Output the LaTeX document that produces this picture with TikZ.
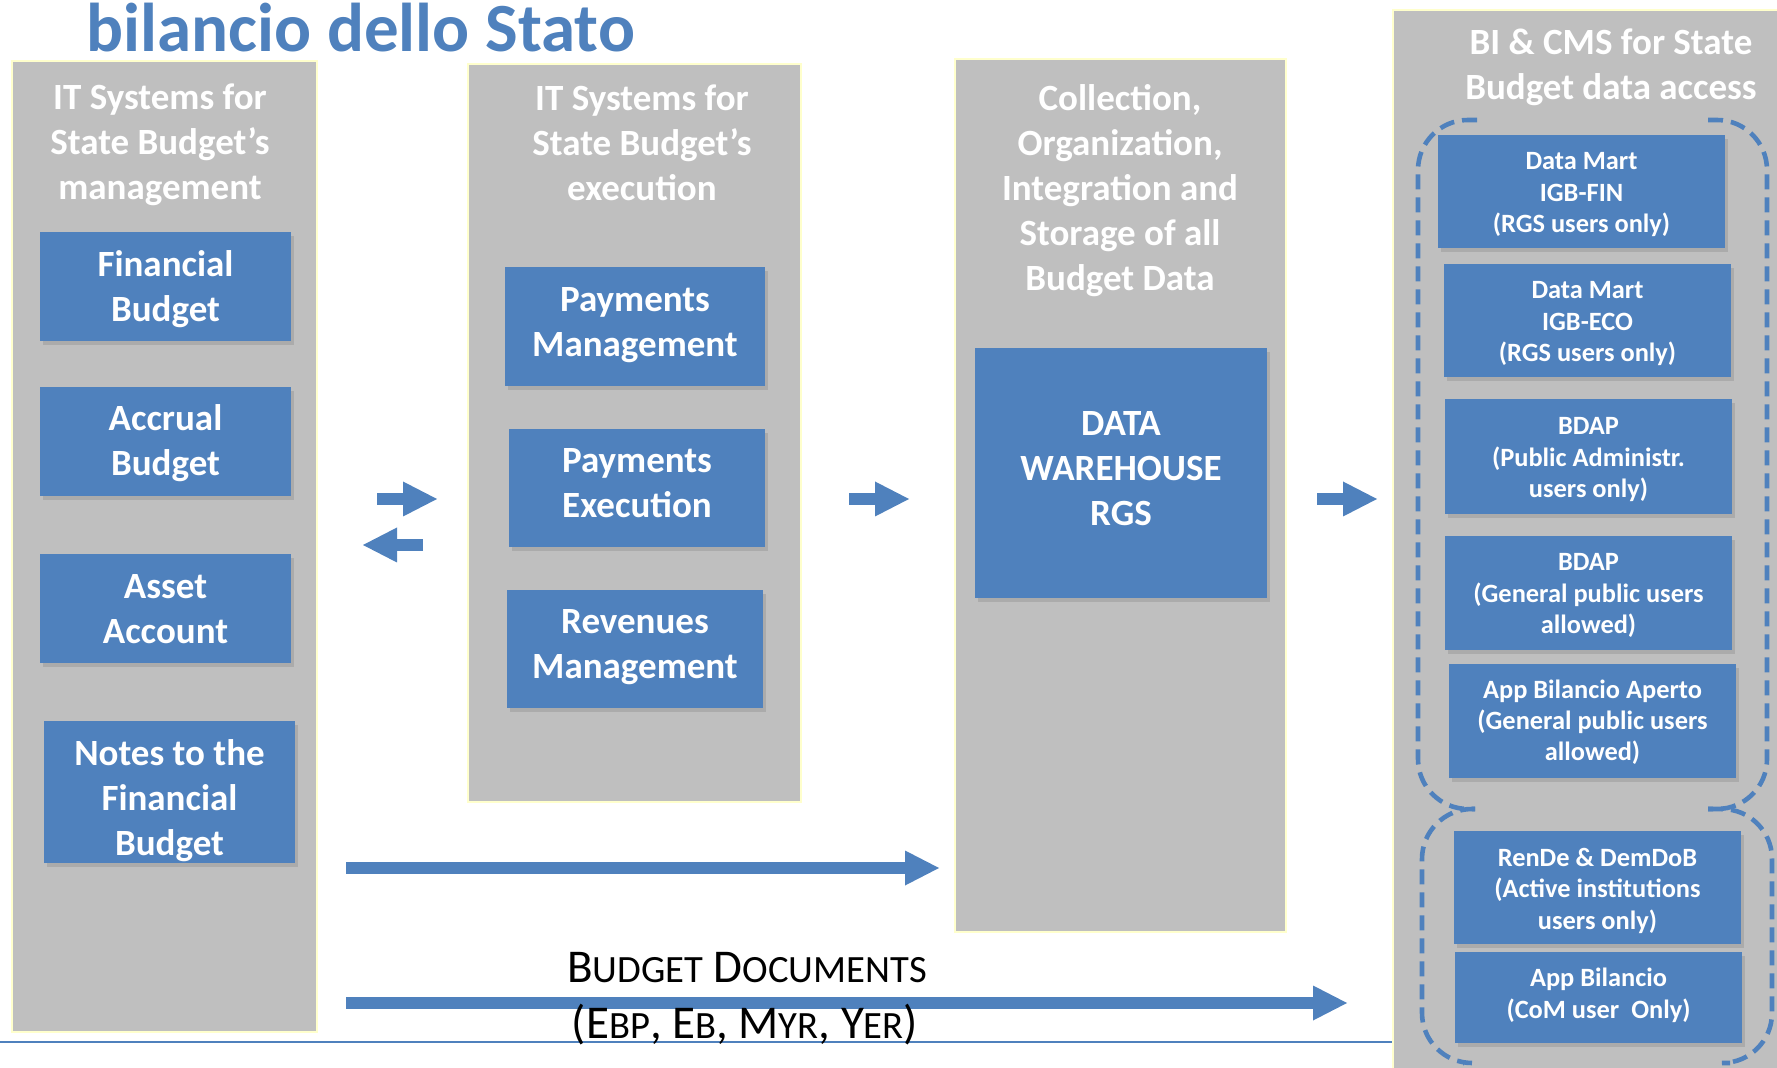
\documentclass[tikz,border=0pt]{standalone}
\usepackage{fontspec}
\setmainfont{Carlito}
\usetikzlibrary{fit,shadows,arrows.meta}
\definecolor{ofblue}{RGB}{79,129,189}
\definecolor{panelgray}{RGB}{191,191,191}
\definecolor{paleyellow}{RGB}{255,255,204}
\newcommand{\fsz}[2]{\fontsize{#1}{#2}\selectfont}
\newcommand{\smc}[1]{{\fontsize{19.3}{20}\selectfont #1}}
\begin{document}
\begin{tikzpicture}[x=0.5pt,y=-0.5pt,
  panel/.style={fill=panelgray, draw=paleyellow, line width=0.8pt, inner sep=0pt},
  bbox/.style={fill=ofblue, inner sep=0pt,
    drop shadow={shadow xshift=1.5pt, shadow yshift=-2pt, opacity=0.3}},
  btext/.style={text=white, align=center, font=\fsz{18.5}{22.5}\bfseries, inner sep=0pt, anchor=base},
  stext/.style={btext, font=\fsz{13.2}{15.75}\bfseries},
  blk/.style={draw=ofblue, line width=6.25pt,
    -{Triangle[length=17pt, width=17.5pt, line width=0pt]}},
  dsh/.style={draw=ofblue, line width=2.3pt, dash pattern=on 7.5pt off 4pt, rounded corners=25pt}
]
\useasboundingbox (0,0) rectangle (1777,1068);
\fill[white] (0,0) rectangle (1777,1068);

% bottom rule
\coordinate (rl) at (0,1042);
\coordinate (rr) at (1393,1042);
\draw[ofblue, line width=1.2pt] (rl) -- (rr);

% title
\node[anchor=base west, text=ofblue, font=\fsz{34.5}{40}\bfseries, inner sep=0pt] (title) at (86,52) {bilancio dello Stato};

% panels
\node[panel, fit={(12,61) (317,1032)}] (p1) {};
\node[panel, fit={(468,64) (801,802)}] (p2) {};
\node[panel, fit={(955,59) (1286,932)}] (p3) {};
\node[panel, fit={(1393,10) (1790,1080)}] (p4) {};

% panel titles (anchor = baseline of last line)
\node[btext] (t1) at (160,200) {IT Systems for\\State Budget’s\\management};
\node[btext] (t2) at (642,201) {IT Systems for\\State Budget’s\\execution};
\node[btext] (t3) at (1120,291) {Collection,\\Organization,\\Integration and\\Storage of all\\Budget Data};
\node[btext] (t4) at (1611,100) {BI \& CMS for State\\Budget data access};

% panel 1 boxes
\node[bbox, fit={(40,232) (291,341)}] (fb) {};
\node[btext] (fbt) at (165.5,322) {Financial\\Budget};
\node[bbox, fit={(40,387) (291,496)}] (ab) {};
\node[btext] (abt) at (165.5,476) {Accrual\\Budget};
\node[bbox, fit={(40,554) (291,663)}] (aa) {};
\node[btext] (aat) at (165.5,644) {Asset\\Account};
\node[bbox, fit={(44,721) (295,863)}] (nf) {};
\node[btext] (nft) at (169.5,855) {Notes to the\\Financial\\Budget};

% panel 2 boxes
\node[bbox, fit={(505,267) (765,386)}] (pm) {};
\node[btext] (pmt) at (635,357) {Payments\\Management};
\node[bbox, fit={(509,429) (765,547)}] (pe) {};
\node[btext] (pet) at (637,518) {Payments\\Execution};
\node[bbox, fit={(507,590) (763,708)}] (rm) {};
\node[btext] (rmt) at (635,679) {Revenues\\Management};

% panel 3 box
\node[bbox, fit={(975,348) (1267,598)}] (dw) {};
\node[btext] (dwt) at (1121,526) {DATA\\WAREHOUSE\\RGS};

% panel 4 dashed groups
\draw[dsh] (1477,120) -- (1418,120) -- (1418,809) -- (1475,809);
\draw[dsh] (1708,120) -- (1767,120) -- (1767,809) -- (1708,809);
\draw[dsh] (1475,809) -- (1422,809) -- (1422,1063) -- (1463,1063);
\draw[dsh] (1708,809) -- (1772,809) -- (1772,1063) -- (1730,1063);

% panel 4 boxes
\node[bbox, fit={(1438,135) (1725,248)}] (dm1) {};
\node[stext] (dm1t) at (1581.5,233) {Data Mart\\IGB-FIN\\(RGS users only)};
\node[bbox, fit={(1444,264) (1731,377)}] (dm2) {};
\node[stext] (dm2t) at (1587.5,362) {Data Mart\\IGB-ECO\\(RGS users only)};
\node[bbox, fit={(1445,399) (1732,514)}] (bdp) {};
\node[stext] (bdpt) at (1588.5,498) {BDAP\\(Public Administr.\\users only)};
\node[bbox, fit={(1445,536) (1732,650)}] (bdg) {};
\node[stext] (bdgt) at (1588.5,634) {BDAP\\(General public users\\allowed)};
\node[bbox, fit={(1449,664) (1736,778)}] (aba) {};
\node[stext] (abat) at (1592.5,761) {App Bilancio Aperto\\(General public users\\allowed)};
\node[bbox, fit={(1454,831) (1741,944)}] (rd) {};
\node[stext] (rdt) at (1597.5,929) {RenDe \& DemDoB\\(Active institutions\\users only)};
\node[bbox, fit={(1455,952) (1742,1043)}] (abc) {};
\node[stext] (abct) at (1598.5,1018) {App Bilancio\\(CoM user\ \ Only)};

% block arrows
\coordinate (a1s) at (377,499); \coordinate (a1e) at (437,499);
\coordinate (a2s) at (423,545); \coordinate (a2e) at (363,545);
\coordinate (a3s) at (849,499); \coordinate (a3e) at (909,499);
\coordinate (a4s) at (1317,499); \coordinate (a4e) at (1377,499);
\coordinate (a5s) at (346,868); \coordinate (a5e) at (939,868);
\coordinate (a6s) at (346,1003); \coordinate (a6e) at (1347,1003);
\draw[blk] (a1s) -- (a1e);
\draw[blk] (a2s) -- (a2e);
\draw[blk] (a3s) -- (a3e);
\draw[blk] (a4s) -- (a4e);
\draw[blk] (a5s) -- (a5e);
\draw[blk] (a6s) -- (a6e);

% budget documents label
\node[anchor=base, font=\fsz{23.5}{28}, inner sep=0pt] (bd1) at (747,982) {B\smc{UDGET} D\smc{OCUMENTS}};
\node[anchor=base, font=\fsz{23.5}{28}, inner sep=0pt] (bd2) at (745,1038) {(E\smc{BP}, E\smc{B}, M\smc{YR}, Y\smc{ER})};
\end{tikzpicture}
\end{document}
